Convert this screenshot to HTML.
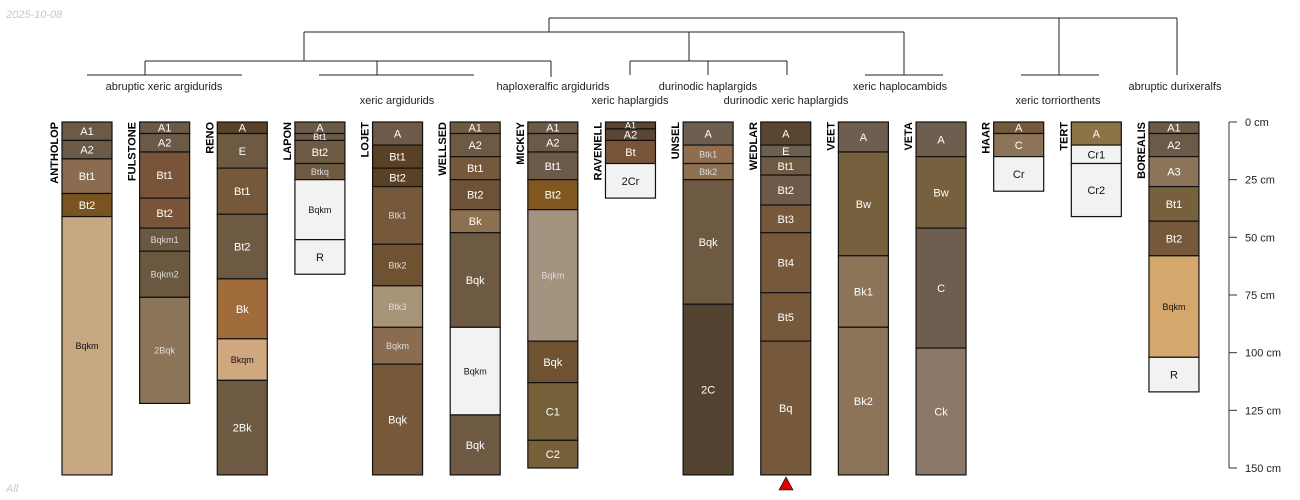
<!DOCTYPE html>
<html><head><meta charset="utf-8"><style>
html,body{margin:0;padding:0;background:#fff;}
svg{display:block;font-family:"Liberation Sans",sans-serif;}
</style></head><body>
<svg id="chart" width="1300" height="500" viewBox="0 0 1300 500" xmlns="http://www.w3.org/2000/svg">
<text x="6" y="18" font-size="11" font-style="italic" fill="#c8c8c8">2025-10-08</text>
<text x="6" y="492" font-size="11" font-style="italic" fill="#c8c8c8">All</text>
<g id="dendro" stroke="#222" stroke-width="1" fill="none"></g>
<g id="profiles"></g>
<g id="axis"></g>
<polygon points="779,490 793,490 786,477" fill="#e00000" stroke="#000" stroke-width="0.6"/>
</svg>
<script>
const profileNames=["ANTHOLOP","FULSTONE","RENO","LAPON","LOJET","WELLSED","MICKEY","RAVENELL","UNSEL","WEDLAR","VEET","VETA","HAAR","TERT","BOREALIS"];
const depthsANTHOLOP=[0,8,16,31,41,153];
const hzANTHOLOP=["A1","A2","Bt1","Bt2","Bqkm"];
const colANTHOLOP=["#6b5a48","#6b5a48","#8c6c50","#7a5420","#c8a880"];
const depthsFULSTONE=[0,5,13,33,46,56,76,122];
const hzFULSTONE=["A1","A2","Bt1","Bt2","Bqkm1","Bqkm2","2Bqk"];
const colFULSTONE=["#6b5a48","#6b5a48","#7a5438","#7a5438","#6b5840","#6b5840","#8c7458"];
const depthsRENO=[0,5,20,40,68,94,112,153];
const hzRENO=["A","E","Bt1","Bt2","Bk","Bkqm","2Bk"];
const colRENO=["#5a4228","#6e5a42","#76583a","#6e5a42","#a06c3c","#d0a880","#6e5a42"];
const depthsLAPON=[0,5,8,18,25,51,66];
const hzLAPON=["A","Bt1","Bt2","Btkq","Bqkm","R"];
const colLAPON=["#6b5a48","#6b5a48","#6e5a42","#6e5a42","#f2f2f2","#f2f2f2"];
const depthsLOJET=[0,10,20,28,53,71,89,105,153];
const hzLOJET=["A","Bt1","Bt2","Btk1","Btk2","Btk3","Bqkm","Bqk"];
const colLOJET=["#6e5a48","#5a4024","#5a4024","#76583a","#6e5232","#a89478","#8c6c50","#76583a"];
const depthsWELLSED=[0,5,15,25,38,48,89,127,153];
const hzWELLSED=["A1","A2","Bt1","Bt2","Bk","Bqk","Bqkm","Bqk"];
const colWELLSED=["#6e5a42","#6e5a42","#76583a","#6e5238","#8c7050","#6e5a42","#f2f2f2","#6e5a42"];
const depthsMICKEY=[0,5,13,25,38,95,113,138,150];
const hzMICKEY=["A1","A2","Bt1","Bt2","Bqkm","Bqk","C1","C2"];
const colMICKEY=["#6b5a48","#6b5a48","#6b5a48","#805820","#a39480","#6e5232","#76603a","#76603a"];
const depthsRAVENELL=[0,3,8,18,33];
const hzRAVENELL=["A1","A2","Bt","2Cr"];
const colRAVENELL=["#5a4632","#5a4632","#7a5438","#f2f2f2"];
const depthsUNSEL=[0,10,18,25,79,153];
const hzUNSEL=["A","Btk1","Btk2","Bqk","2C"];
const colUNSEL=["#6e5e50","#906c50","#8c7050","#6e5a42","#544230"];
const depthsWEDLAR=[0,10,15,23,36,48,74,95,153];
const hzWEDLAR=["A","E","Bt1","Bt2","Bt3","Bt4","Bt5","Bq"];
const colWEDLAR=["#5a4630","#6e5e50","#6e5a42","#6e5a48","#76583a","#76583a","#76583a","#76583a"];
const depthsVEET=[0,13,58,89,153];
const hzVEET=["A","Bw","Bk1","Bk2"];
const colVEET=["#6e5e50","#76603e","#8c7458","#8c7458"];
const depthsVETA=[0,15,46,98,153];
const hzVETA=["A","Bw","C","Ck"];
const colVETA=["#6e5e50","#76603e","#6e5e50","#8c7868"];
const depthsHAAR=[0,5,15,30];
const hzHAAR=["A","C","Cr"];
const colHAAR=["#76583a","#8c7458","#f2f2f2"];
const depthsTERT=[0,10,18,41];
const hzTERT=["A","Cr1","Cr2"];
const colTERT=["#8c7448","#f2f2f2","#f2f2f2"];
const depthsBOREALIS=[0,5,15,28,43,58,102,117];
const hzBOREALIS=["A1","A2","A3","Bt1","Bt2","Bqkm","R"];
const colBOREALIS=["#6b5a48","#6b5a48","#8c7458","#76603e","#76583a","#d4a86c","#f2f2f2"];
const axisTicks=[0,25,50,75,100,125,150];
const taxaRow1=["abruptic xeric argidurids","haploxeralfic argidurids","durinodic haplargids","xeric haplocambids","abruptic durixeralfs"];
const taxaRow1X=[164,553,708,900,1175];
const taxaRow2=["xeric argidurids","xeric haplargids","durinodic xeric haplargids","xeric torriorthents"];
const taxaRow2X=[397,630,786,1058];

const allDepths=[depthsANTHOLOP,depthsFULSTONE,depthsRENO,depthsLAPON,depthsLOJET,depthsWELLSED,depthsMICKEY,depthsRAVENELL,depthsUNSEL,depthsWEDLAR,depthsVEET,depthsVETA,depthsHAAR,depthsTERT,depthsBOREALIS];
const allHz=[hzANTHOLOP,hzFULSTONE,hzRENO,hzLAPON,hzLOJET,hzWELLSED,hzMICKEY,hzRAVENELL,hzUNSEL,hzWEDLAR,hzVEET,hzVETA,hzHAAR,hzTERT,hzBOREALIS];
const allCol=[colANTHOLOP,colFULSTONE,colRENO,colLAPON,colLOJET,colWELLSED,colMICKEY,colRAVENELL,colUNSEL,colWEDLAR,colVEET,colVETA,colHAAR,colTERT,colBOREALIS];

const NS="http://www.w3.org/2000/svg";
const Y0=122, PXCM=346/150;
function yScale(d){return Y0+d*PXCM;}
function xScale(i){return 62+i*77.64;}
const W=50;
function mk(tag,attrs,parent){const e=document.createElementNS(NS,tag);for(const k in attrs)e.setAttribute(k,attrs[k]);parent.appendChild(e);return e;}
function lum(h){const r=parseInt(h.substr(1,2),16),g=parseInt(h.substr(3,2),16),b=parseInt(h.substr(5,2),16);return 0.299*r+0.587*g+0.114*b;}

const pg=document.getElementById('profiles');
profileNames.forEach((name,i)=>{
  const g=mk('g',{},pg);
  
  
  const x=xScale(i), d=allDepths[i], hz=allHz[i], cl=allCol[i];
  for(let j=0;j<hz.length;j++){
    const y1=yScale(d[j]), y2=yScale(d[j+1]);
    const r=mk('rect',{x:x,y:y1,width:W,height:y2-y1,fill:cl[j],stroke:'#111','stroke-width':1.2},g);
    
    
    const small=hz[j].length>=4;
    const h=y2-y1;
    const fs=small?9:(h<10?9:11);
    const t=mk('text',{x:x+W/2,y:(y1+y2)/2+fs*0.36,'font-size':fs,'text-anchor':'middle',fill:lum(cl[j])>170?'#111':(small?'#ddd':'#fff')},g);
    t.textContent=hz[j];
    
    
  }
  const nt=mk('text',{transform:`translate(${x-4},${Y0}) rotate(-90)`,'font-size':11,'font-weight':'bold','text-anchor':'end',fill:'#000'},g);
  nt.textContent=name;
  
  
});

const ax=document.getElementById('axis');
mk('line',{x1:1229,y1:yScale(0),x2:1229,y2:yScale(150),stroke:'#555','stroke-width':1.2},ax);
axisTicks.forEach(t=>{
  const y=yScale(t);
  mk('line',{x1:1229,y1:y,x2:1237,y2:y,stroke:'#333','stroke-width':1},ax);
  const tx=mk('text',{x:1245,y:y+4,'font-size':11,fill:'#222'},ax);
  tx.textContent=t+' cm';
  
  
});

const dg=document.getElementById('dendro');
const segs=[
 [549,18,1177,18],[549,18,549,32],[304,32,904,32],
 [304,32,304,61],[145,61,551,61],[145,61,145,75],[87,75,242,75],
 [377,61,377,75],[319,75,474,75],[551,61,551,77],
 [689,32,689,61],[630,61,787,61],[630,61,630,75],[708,61,708,75],[787,61,787,75],
 [904,32,904,75],[865,75,943,75],
 [1059,18,1059,75],[1021,75,1099,75],[1177,18,1177,75]
];
segs.forEach(s=>mk('line',{x1:s[0],y1:s[1],x2:s[2],y2:s[3]},dg));
taxaRow1.forEach((t,i)=>{const e=mk('text',{x:taxaRow1X[i],y:90,'font-size':11,'text-anchor':'middle',fill:'#222',stroke:'none'},dg);e.textContent=t;
 });
taxaRow2.forEach((t,i)=>{const e=mk('text',{x:taxaRow2X[i],y:104,'font-size':11,'text-anchor':'middle',fill:'#222',stroke:'none'},dg);e.textContent=t;
 });
</script>
</body></html>
